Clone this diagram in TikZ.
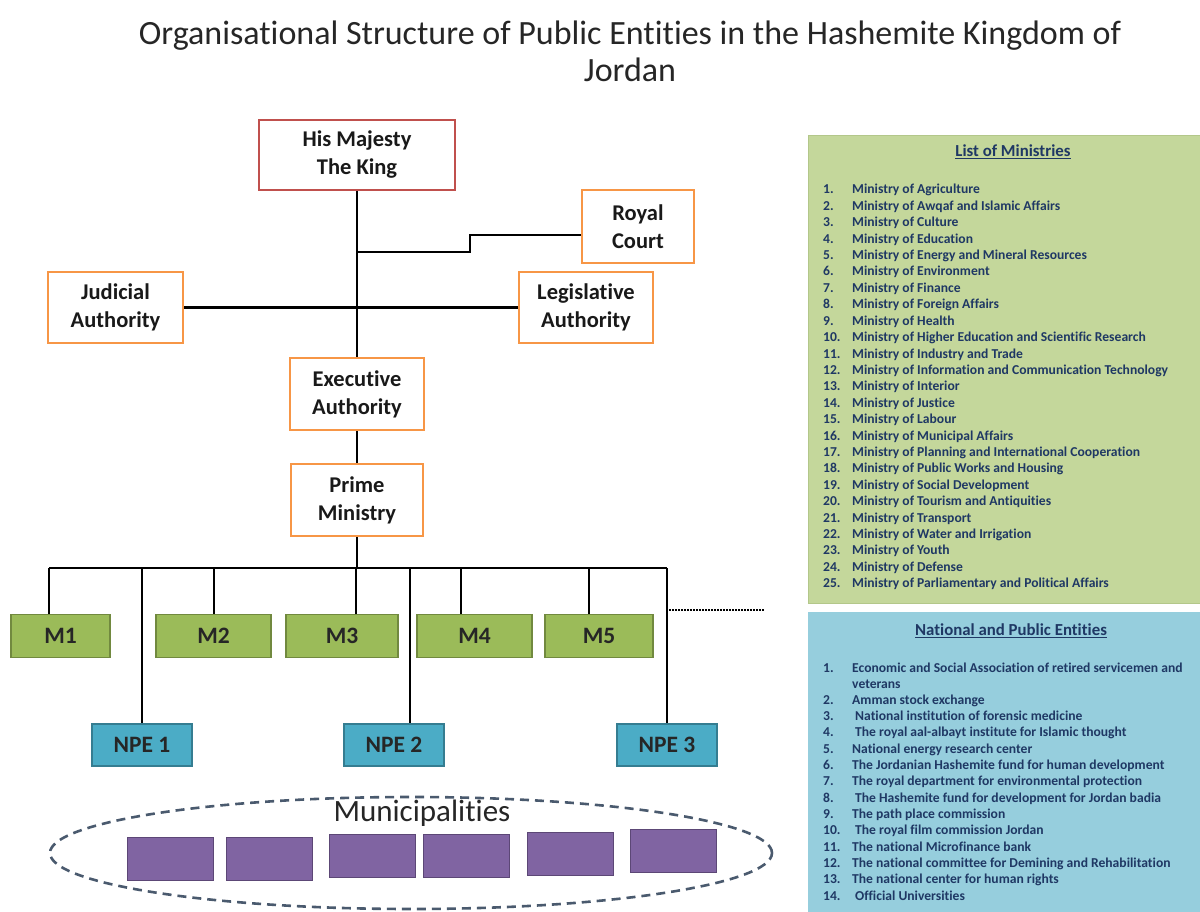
\documentclass[tikz,border=0pt]{standalone}
\usepackage{fontspec}
\setmainfont{Carlito}[Ligatures={NoCommon}]
\usetikzlibrary{shapes.geometric}

\definecolor{kingred}{HTML}{C0504D}
\definecolor{authorange}{HTML}{F79646}
\definecolor{mgreen}{HTML}{9BBB59}
\definecolor{mgreenD}{HTML}{71893F}
\definecolor{npeblue}{HTML}{4BACC6}
\definecolor{npeblueD}{HTML}{357D91}
\definecolor{purp}{HTML}{8064A2}
\definecolor{purpD}{HTML}{5C4776}
\definecolor{ellgray}{HTML}{4A5A6E}
\definecolor{panelgreen}{HTML}{C4D79B}
\definecolor{panelgreenD}{HTML}{B3C78A}
\definecolor{panelblue}{HTML}{96CEDD}
\definecolor{navy}{HTML}{1F3864}

\tikzset{
  orgbox/.style={draw, line width=2pt, fill=white, align=center, inner sep=0pt,
    text=black!90, font=\bfseries\fontsize{22.5}{28}\selectfont},
  authbox/.style={orgbox, draw=authorange},
  conn/.style={draw=black, line width=2.6pt},
  mbox/.style={fill=mgreen, draw=mgreenD, line width=1.2pt, inner sep=0pt,
    minimum height=43pt, text=black!85, font=\bfseries\fontsize{23.5}{26}\selectfont},
  npebox/.style={fill=npeblue, draw=npeblueD, line width=1.2pt, inner sep=0pt,
    minimum width=100pt, minimum height=42pt, text=black!85,
    font=\bfseries\fontsize{23.5}{26}\selectfont},
  munibox/.style={fill=purp, draw=purpD, line width=1pt, inner sep=0pt,
    minimum width=86pt, minimum height=43pt},
  paneltitle/.style={text=navy, inner sep=0pt, font=\bfseries\fontsize{16.8}{19}\selectfont},
  listnum/.style={anchor=base west, inner sep=0pt, text=navy,
    font=\bfseries\fontsize{13.6}{15}\selectfont},
  listtxt/.style={listnum}
}

\begin{document}
\begin{tikzpicture}[x=1pt,y=-1pt]
\useasboundingbox (0,0) rectangle (1200,912);
\fill[white] (0,0) rectangle (1200,912);

% heading
\node[align=center, inner sep=0pt, text=black!85, font=\fontsize{34}{37}\selectfont]
  (title) at (630,51) {Organisational Structure of Public Entities in the Hashemite Kingdom of\\Jordan};

% upper hierarchy
\node[orgbox, draw=kingred, minimum width=196pt, minimum height=70pt] (king) at (357,155) {His Majesty\\The King};
\node[authbox, minimum width=112pt, minimum height=73pt] (royal) at (638,226.5) {Royal\\Court};
\node[authbox, minimum width=135pt, minimum height=71pt] (jud) at (115.5,307.5) {Judicial\\Authority};
\node[authbox, minimum width=134pt, minimum height=71pt] (leg) at (586,307.5) {Legislative\\Authority};
\node[authbox, minimum width=134pt, minimum height=72pt] (exec) at (357,394) {Executive\\Authority};
\node[authbox, minimum width=132pt, minimum height=72pt] (prime) at (357,500) {Prime\\Ministry};

\coordinate (rcj) at (357,252);
\draw[conn] (king.south) -- (exec.north);
\draw[conn] (rcj) -- ++(113,0) -- ++(0,-17) -- ([yshift=-8.5pt]royal.west);
\draw[conn] (jud.east) -- (leg.west);
\draw[conn] (exec.south) -- (prime.north);

% ministries and public entities
\node[mbox, minimum width=99pt]  (m1) at (60.5,636) {M1};
\node[mbox, minimum width=115pt] (m2) at (213.5,636) {M2};
\node[mbox, minimum width=112pt] (m3) at (342,636) {M3};
\node[mbox, minimum width=115pt] (m4) at (474.5,636) {M4};
\node[mbox, minimum width=108pt] (m5) at (599,636) {M5};
\node[npebox] (npe1) at (142,745) {NPE 1};
\node[npebox] (npe2) at (394,745) {NPE 2};
\node[npebox] (npe3) at (667,745) {NPE 3};

\coordinate (busL) at (49,568);
\coordinate (busR) at (667,568);
\coordinate (d2) at (142,568);
\coordinate (d3) at (214,568);
\coordinate (d4) at (356,568);
\coordinate (d5) at (410,568);
\coordinate (d6) at (461,568);
\coordinate (d7) at (589,568);
\draw[conn] (prime.south) -- (prime.south |- busL);
\draw[conn] (busL) -- (busR);
\draw[conn] (busL) -- (busL |- m1.north);
\draw[conn] (d2) -- (npe1.north);
\draw[conn] (d3) -- (d3 |- m2.north);
\draw[conn] (d4) -- (d4 |- m3.north);
\draw[conn] (d5) -- (d5 |- npe2.north);
\draw[conn] (d6) -- (d6 |- m4.north);
\draw[conn] (d7) -- (d7 |- m5.north);
\draw[conn] (busR) -- (npe3.north);

\coordinate (dotA) at (669,610);
\coordinate (dotB) at (765,610);
\draw[line width=2pt, dash pattern=on 1.5pt off 1.5pt] (dotA) -- (dotB);

% municipalities
\node[ellipse, draw=ellgray, line width=2.6pt, dash pattern=on 9pt off 6pt,
  minimum width=722pt, minimum height=112pt, inner sep=0pt] (muni) at (411,853) {};
\node[inner sep=0pt, text=black!85, font=\fontsize{31}{36}\selectfont] (munilabel) at (422,813) {Municipalities};
\node[munibox] (mu1) at (170,858.5) {};
\node[munibox] (mu2) at (269,858.5) {};
\node[munibox] (mu3) at (372,856) {};
\node[munibox] (mu4) at (466,856) {};
\node[munibox] (mu5) at (570,854) {};
\node[munibox] (mu6) at (673.5,851) {};

% list of ministries
\node[fill=panelgreen, draw=panelgreenD, line width=1pt, anchor=north west,
  minimum width=392pt, minimum height=468pt, inner sep=0pt] (minpanel) at (808,135) {};
\node[paneltitle] (mintitle) at (1013,152) {\underline{List of Ministries}};
\foreach \t [count=\i] in {
  Ministry of Agriculture,
  Ministry of Awqaf and Islamic Affairs,
  Ministry of Culture,
  Ministry of Education,
  Ministry of Energy and Mineral Resources,
  Ministry of Environment,
  Ministry of Finance,
  Ministry of Foreign Affairs,
  Ministry of Health,
  Ministry of Higher Education and Scientific Research,
  Ministry of Industry and Trade,
  Ministry of Information and Communication Technology,
  Ministry of Interior,
  Ministry of Justice,
  Ministry of Labour,
  Ministry of Municipal Affairs,
  Ministry of Planning and International Cooperation,
  Ministry of Public Works and Housing,
  Ministry of Social Development,
  Ministry of Tourism and Antiquities,
  Ministry of Transport,
  Ministry of Water and Irrigation,
  Ministry of Youth,
  Ministry of Defense,
  Ministry of Parliamentary and Political Affairs}
{
  \node[listnum] (mnum\i) at (823,{194+16.4*(\i-1)}) {\i.};
  \node[listtxt] (mtxt\i) at (852,{194+16.4*(\i-1)}) {\t};
}

% national and public entities
\node[fill=panelblue, anchor=north west, minimum width=392pt, minimum height=300pt,
  inner sep=0pt] (npepanel) at (808,612) {};
\node[paneltitle] (npetitle) at (1011,631) {\underline{National and Public Entities}};
\node[listnum] (enum1) at (823,672) {1.};
\node[listtxt] (etxt1) at (852,672) {Economic and Social Association of retired servicemen and};
\node[listtxt] (etxt1b) at (852,688) {veterans};
\foreach \t/\dx [count=\j from 2] in {
  Amman stock exchange/0,
  National institution of forensic medicine/3,
  The royal aal-albayt institute for Islamic thought/3,
  National energy research center/0,
  The Jordanian Hashemite fund for human development/0,
  The royal department for environmental protection/0,
  The Hashemite fund for development for Jordan badia/3,
  The path place commission/0,
  The royal film commission Jordan/3,
  The national Microfinance bank/0,
  The national committee for Demining and Rehabilitation/0,
  The national center for human rights/0,
  Official Universities/3}
{
  \node[listnum] (enum\j) at (823,{704+16.35*(\j-2)}) {\j.};
  \node[listtxt] (etxt\j) at ({852+\dx},{704+16.35*(\j-2)}) {\t};
}
\end{tikzpicture}
\end{document}
